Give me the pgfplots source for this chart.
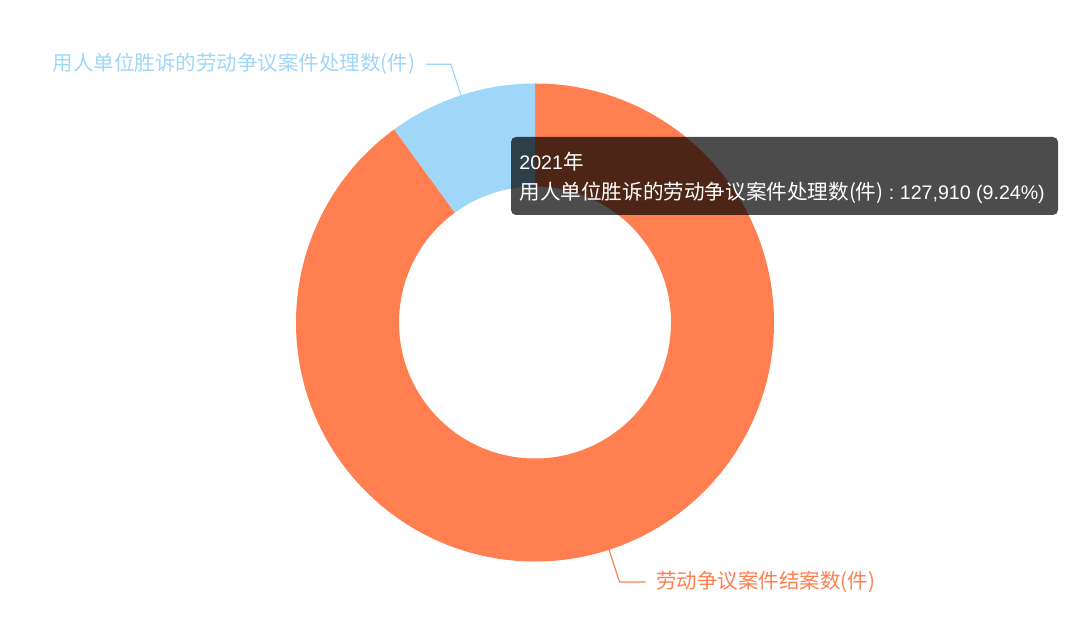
\documentclass[border=0pt]{standalone}
\usepackage{pgfplots}
\pgfplotsset{compat=1.18}
\usepackage{pgfplotstable}
\usepackage{fontspec}
\newfontfamily\cjk{Noto Sans CJK SC}
\newfontfamily\lat{Liberation Sans}
\definecolor{coral}{RGB}{255,127,80}
\definecolor{skyb}{RGB}{160,214,248}

% slice values, in echarts order (clockwise from 12 o'clock)
\pgfplotstableread{
slice value
closed 1148000
won 127910
}\piedata
\pgfplotstablegetelem{0}{value}\of\piedata \let\vA\pgfplotsretval
\pgfplotstablegetelem{1}{value}\of\piedata \let\vB\pgfplotsretval
\edef\aA{\fpeval{360*\vA/(\vA+\vB)}}
\edef\eA{\fpeval{90-\aA}}
\edef\mA{\fpeval{90-\aA/2}}
\edef\mB{\fpeval{90-\aA-(360-\aA)/2}}
\def\R{119.5pt}
\def\r{68pt}

\begin{document}
\begin{tikzpicture}
\begin{axis}[
    x=0.5pt, y=0.5pt,
    xmin=0, xmax=1080, ymin=0, ymax=637,
    hide axis, clip=false,
  ]
  \path (axis cs:0,0) rectangle (axis cs:1080,637);
  % orange slice
  \fill[coral] (axis cs:535,314.5) ++(90:\R) arc[start angle=90, end angle=\eA, radius=\R]
    -- ++(\eA:-51.5pt) arc[start angle=\eA, end angle=90, radius=\r] -- cycle;
  % blue slice
  \fill[skyb] (axis cs:535,314.5) ++(\eA:\R) arc[start angle=\eA, end angle=-270, radius=\R]
    -- ++(-270:-51.5pt) arc[start angle=-270, end angle=\eA, radius=\r] -- cycle;
  % leader lines and labels
  \draw[skyb, line width=0.6pt] (axis cs:535,314.5) ++(\mB:\R) -- ++(\mB:16.3pt) -- ++(-12.5pt,0)
    node[anchor=east, inner sep=0pt, xshift=-5pt, text=skyb, font=\cjk\fontsize{10.25}{12}\selectfont]
    {用人单位胜诉的劳动争议案件处理数(件)};
  \draw[coral, line width=0.6pt] (axis cs:535,314.5) ++(\mA:\R) -- ++(\mA:17pt) -- ++(13pt,0)
    node[anchor=west, inner sep=0pt, xshift=5pt, text=coral, font=\cjk\fontsize{10.25}{12}\selectfont]
    {劳动争议案件结案数(件)};
  % tooltip
  \fill[black, opacity=0.7, rounded corners=2.5pt] (axis cs:511,422) rectangle (axis cs:1058,500);
  \node[anchor=west, inner sep=0pt, text=white, font=\cjk\fontsize{10.3}{12}\selectfont]
    at (axis cs:519,475) {{\lat\fontsize{9.8}{12}\selectfont 2021}年};
  \node[anchor=west, inner sep=0pt, text=white, font=\cjk\fontsize{10.3}{12}\selectfont]
    at (axis cs:519,444) {用人单位胜诉的劳动争议案件处理数(件){\lat\fontsize{9.8}{12}\selectfont\ :\ 127,910 (9.24\%)}};
\end{axis}
\end{tikzpicture}
\end{document}
